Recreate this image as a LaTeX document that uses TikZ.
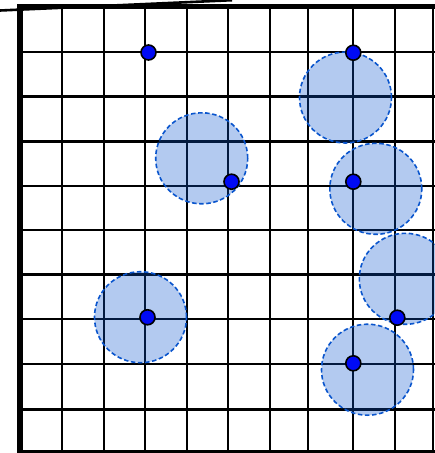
\documentclass[tikz,border=0pt]{standalone}
\usepackage{tikz}
\definecolor{zoneblue}{RGB}{10,85,205}
\definecolor{spotblue}{RGB}{0,10,245}

\begin{document}
\begin{tikzpicture}[x=1pt,y=-1pt,
  gridline/.style={line width=2.6pt,black},
  zone/.style={draw=zoneblue,line width=1.6pt,dash pattern=on 4.5pt off 2.6pt,
    fill=zoneblue,fill opacity=0.31,draw opacity=1},
  spot/.style={circle,draw=black,line width=1.6pt,fill=spotblue,inner sep=0pt,minimum size=15pt}]
\useasboundingbox (0,0) rectangle (435,453);
% grid
\foreach \gx in {62,104,145,187,228,270,308,353,395,433}
  \draw[gridline] (\gx,6) -- (\gx,453);
\foreach \gy in {52,96.5,141.5,186,230,274.5,319,364,409.5}
  \draw[gridline] (20,\gy) -- (435,\gy);
\draw[line width=3pt] (20,451.5)--(435,451.5);
\draw[line width=6pt] (20,4)--(20,453);
\draw[line width=5pt] (17,6.5)--(435,6.5);
\draw[line width=2.6pt] (0,10.5)--(232,0.2);
% zones
\draw[zone] (345.5,97.5) circle[x radius=46pt,y radius=45.5pt];
\draw[zone] (201.7,158.3) circle[x radius=46pt,y radius=45.5pt];
\draw[zone] (375.8,188.8) circle[x radius=46pt,y radius=45.5pt];
\draw[zone] (405.3,278.8) circle[x radius=46pt,y radius=45.5pt];
\draw[zone] (140.5,317.2) circle[x radius=46pt,y radius=45.5pt];
\draw[zone] (367.5,369.7) circle[x radius=46pt,y radius=45.5pt];
% points
\node[spot] (p1) at (148.5,52.5) {};
\node[spot] (p2) at (353.3,52.7) {};
\node[spot] (p3) at (231.5,181.7) {};
\node[spot] (p4) at (353.3,181.7) {};
\node[spot] (p5) at (147.5,317.3) {};
\node[spot] (p6) at (397.3,317.7) {};
\node[spot] (p7) at (353.3,363.3) {};
\end{tikzpicture}
\end{document}
